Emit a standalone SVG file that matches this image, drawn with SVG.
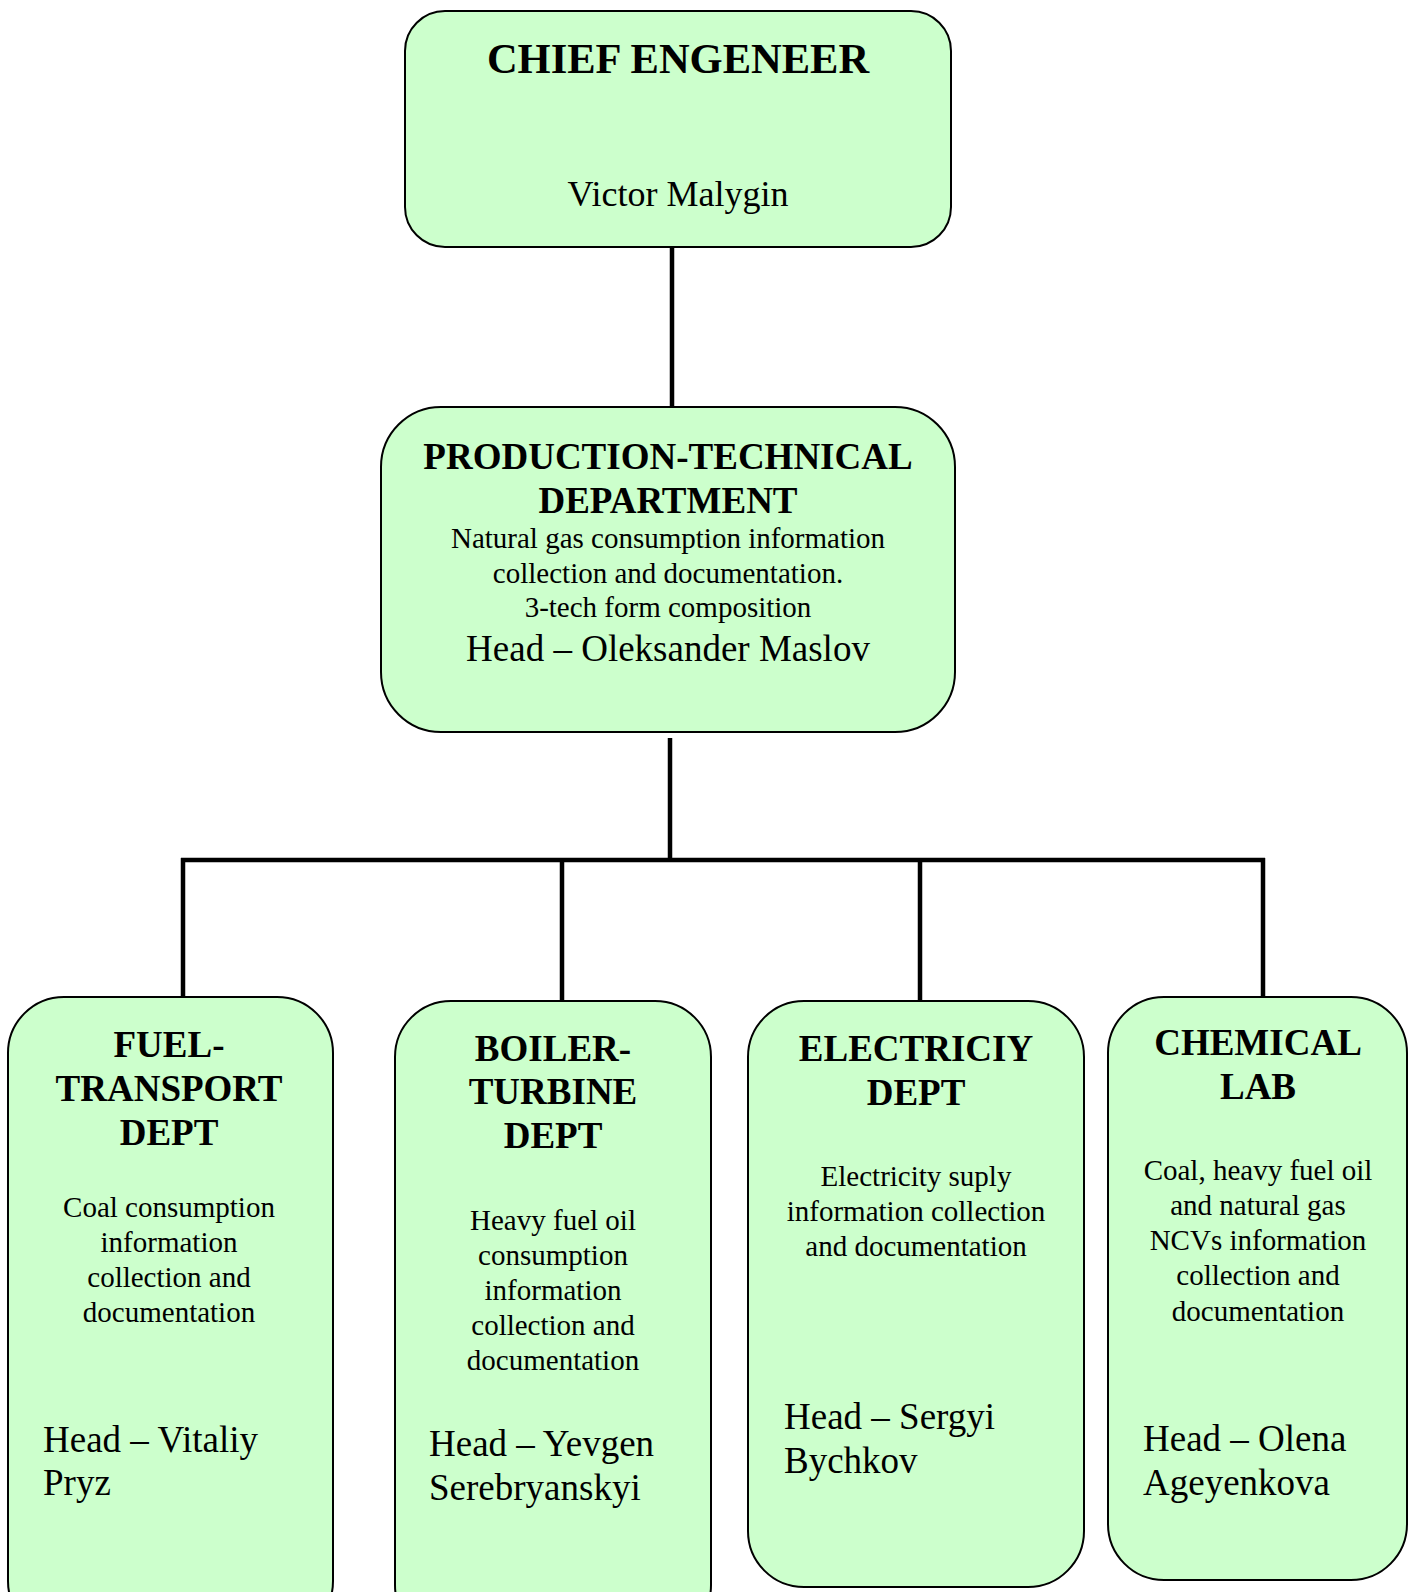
<svg xmlns="http://www.w3.org/2000/svg" width="1413" height="1592" viewBox="0 0 1413 1592">
<style>
.box{fill:#CCFFCC;stroke:#000;stroke-width:2}
.t{font-family:"Liberation Serif","Times New Roman",serif;fill:#000}
.b{font-weight:bold;font-size:37px;text-anchor:middle}
.d{font-size:29px;text-anchor:middle}
.h{font-size:37px}
.conn{stroke:#000;stroke-width:4.5;fill:none}
</style>
<rect width="1413" height="1592" fill="#fff"/>
<g id="connectors">
<line class="conn" x1="672" y1="247" x2="672" y2="407"/>
<line class="conn" x1="670" y1="738" x2="670" y2="860"/>
<line class="conn" x1="181" y1="860" x2="1265" y2="860"/>
<line class="conn" x1="183" y1="858" x2="183" y2="997"/>
<line class="conn" x1="562" y1="858" x2="562" y2="1001"/>
<line class="conn" x1="920" y1="858" x2="920" y2="1001"/>
<line class="conn" x1="1263" y1="858" x2="1263" y2="997"/>
</g>
<g id="chief">
<rect class="box" x="405" y="11" width="546" height="236" rx="40"/>
<text class="t" x="678" y="73" font-weight="bold" font-size="42.5" text-anchor="middle">CHIEF ENGENEER</text>
<text class="t" x="678" y="206" font-size="36" text-anchor="middle">Victor Malygin</text>
</g>
<g id="ptd">
<rect class="box" x="381" y="407" width="574" height="325" rx="60"/>
<text class="t b" x="668" y="469">PRODUCTION-TECHNICAL</text>
<text class="t b" x="668" y="513">DEPARTMENT</text>
<text class="t d" x="668" y="548">Natural gas consumption information</text>
<text class="t d" x="668" y="583">collection and documentation.</text>
<text class="t d" x="668" y="617">3-tech form composition</text>
<text class="t" x="668" y="661" font-size="37" text-anchor="middle">Head – Oleksander Maslov</text>
</g>
<g id="fuel">
<rect class="box" x="8" y="997" width="325" height="640" rx="56"/>
<text class="t b" x="169" y="1057">FUEL-</text>
<text class="t b" x="169" y="1101">TRANSPORT</text>
<text class="t b" x="169" y="1145">DEPT</text>
<text class="t d" x="169" y="1217">Coal consumption</text>
<text class="t d" x="169" y="1252">information</text>
<text class="t d" x="169" y="1287">collection and</text>
<text class="t d" x="169" y="1322">documentation</text>
<text class="t h" x="43" y="1452">Head – Vitaliy</text>
<text class="t h" x="43" y="1495">Pryz</text>
</g>
<g id="boiler">
<rect class="box" x="395" y="1001" width="316" height="640" rx="56"/>
<text class="t b" x="553" y="1061">BOILER-</text>
<text class="t b" x="553" y="1104">TURBINE</text>
<text class="t b" x="553" y="1148">DEPT</text>
<text class="t d" x="553" y="1230">Heavy fuel oil</text>
<text class="t d" x="553" y="1265">consumption</text>
<text class="t d" x="553" y="1300">information</text>
<text class="t d" x="553" y="1335">collection and</text>
<text class="t d" x="553" y="1370">documentation</text>
<text class="t h" x="429" y="1456">Head – Yevgen</text>
<text class="t h" x="429" y="1500">Serebryanskyi</text>
</g>
<g id="electricity">
<rect class="box" x="748" y="1001" width="336" height="586" rx="56"/>
<text class="t b" x="916" y="1061">ELECTRICIY</text>
<text class="t b" x="916" y="1105">DEPT</text>
<text class="t d" x="916" y="1186">Electricity suply</text>
<text class="t d" x="916" y="1221">information collection</text>
<text class="t d" x="916" y="1256">and documentation</text>
<text class="t h" x="784" y="1429">Head – Sergyi</text>
<text class="t h" x="784" y="1473">Bychkov</text>
</g>
<g id="chemical">
<rect class="box" x="1108" y="997" width="299" height="583" rx="56"/>
<text class="t b" x="1258" y="1055">CHEMICAL</text>
<text class="t b" x="1258" y="1099">LAB</text>
<text class="t d" x="1258" y="1180">Coal, heavy fuel oil</text>
<text class="t d" x="1258" y="1215">and natural gas</text>
<text class="t d" x="1258" y="1250">NCVs information</text>
<text class="t d" x="1258" y="1285">collection and</text>
<text class="t d" x="1258" y="1321">documentation</text>
<text class="t h" x="1143" y="1451">Head – Olena</text>
<text class="t h" x="1143" y="1495">Ageyenkova</text>
</g>
</svg>
